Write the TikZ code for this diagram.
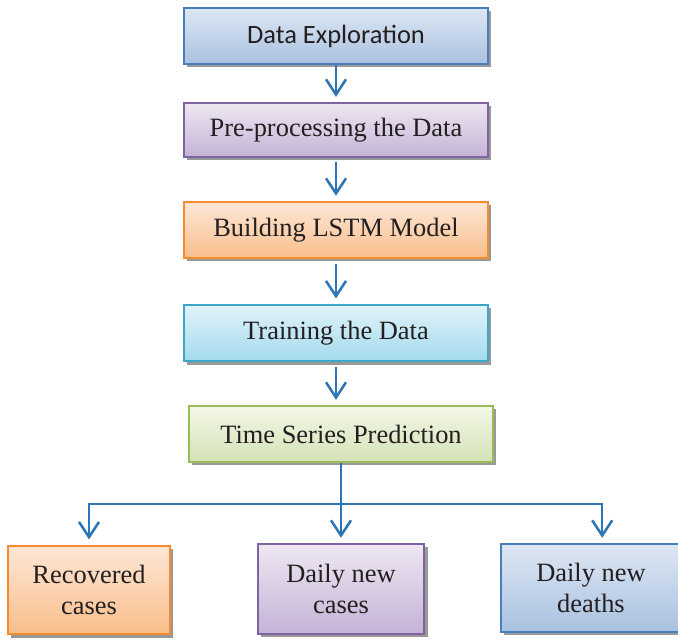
\documentclass[tikz,border=0pt]{standalone}
\usepackage{fontspec}
\setmainfont{Liberation Serif}
\newfontfamily\calibri{Carlito}
\usetikzlibrary{arrows.meta, shadows, positioning}
\definecolor{linkblue}{HTML}{2E75B6}
\definecolor{inkdark}{HTML}{231F20}
\definecolor{blueedge}{HTML}{4A7EBB}
\definecolor{bluetop}{HTML}{DDE7F3}
\definecolor{bluebot}{HTML}{A9C1E0}
\definecolor{purpedge}{HTML}{7E62A1}
\definecolor{purptop}{HTML}{EEE7F2}
\definecolor{purpbot}{HTML}{C4B2D6}
\definecolor{orngedge}{HTML}{F58A2E}
\definecolor{orngtop}{HTML}{FDE7D7}
\definecolor{orngbot}{HTML}{F9BE8B}
\definecolor{aquaedge}{HTML}{3CA7C4}
\definecolor{aquatop}{HTML}{E1F3F8}
\definecolor{aquabot}{HTML}{A3DAEE}
\definecolor{grnedge}{HTML}{9BBB59}
\definecolor{grntop}{HTML}{F3F7E7}
\definecolor{grnbot}{HTML}{D4E2B6}

\begin{document}
\begin{tikzpicture}[x=0.025cm, y=-0.025cm,
  box/.style={draw, line width=1.4pt, text=inkdark, minimum width=7.6cm, minimum height=1.4cm,
    font=\fontsize{18.8}{22}\selectfont, align=center,
    drop shadow={shadow xshift=0.08cm, shadow yshift=-0.08cm, fill=black!40, opacity=1}},
  bluebox/.style={box, draw=blueedge, top color=bluetop, bottom color=bluebot},
  purpbox/.style={box, draw=purpedge, top color=purptop, bottom color=purpbot},
  orngbox/.style={box, draw=orngedge, top color=orngtop, bottom color=orngbot},
  aquabox/.style={box, draw=aquaedge, top color=aquatop, bottom color=aquabot},
  grnbox/.style={box, draw=grnedge, top color=grntop, bottom color=grnbot},
  link/.style={draw=linkblue, line width=1.8pt},
  flow/.style={link, -{Straight Barb[length=0.38cm, width=0.5cm]}, shorten >=0.13cm}]
\useasboundingbox (0,0) rectangle (678,639);
\node[bluebox, font=\calibri\fontsize{18.8}{22}\selectfont] (b1) at (336,36) {Data Exploration};
\node[purpbox, minimum height=1.35cm] (b2) at (336,130) {Pre-processing the Data};
\node[orngbox] (b3) at (336,230) {Building LSTM Model};
\node[aquabox, minimum height=1.42cm] (b4) at (336,333) {Training the Data};
\node[grnbox] (b5) at (341,434) {Time Series Prediction};
\node[orngbox, minimum width=4.05cm, minimum height=2.22cm] (r) at (89,590) {Recovered\\cases};
\node[purpbox, minimum width=4.17cm, minimum height=2.25cm] (d1) at (341,589) {Daily new\\cases};
\node[bluebox, minimum width=4.5cm, minimum height=2.2cm] (d2) at (591,588) {Daily new\\deaths};
\coordinate (s) at (341,504);
\draw[flow] (b1) -- (b2);
\draw[flow, shorten <=0.1cm] (b2) -- (b3);
\draw[flow, shorten <=0.12cm] (b3) -- (b4);
\draw[flow, shorten <=0.12cm] (b4.south) -- (b4.south |- b5.north);
\draw[link] (b5) -- (s);
\draw[flow] (s) -| (r);
\draw[flow] (s) -- (d1);
\draw[flow] (s) -| ([xshift=0.28cm]d2.north);
\end{tikzpicture}
\end{document}
